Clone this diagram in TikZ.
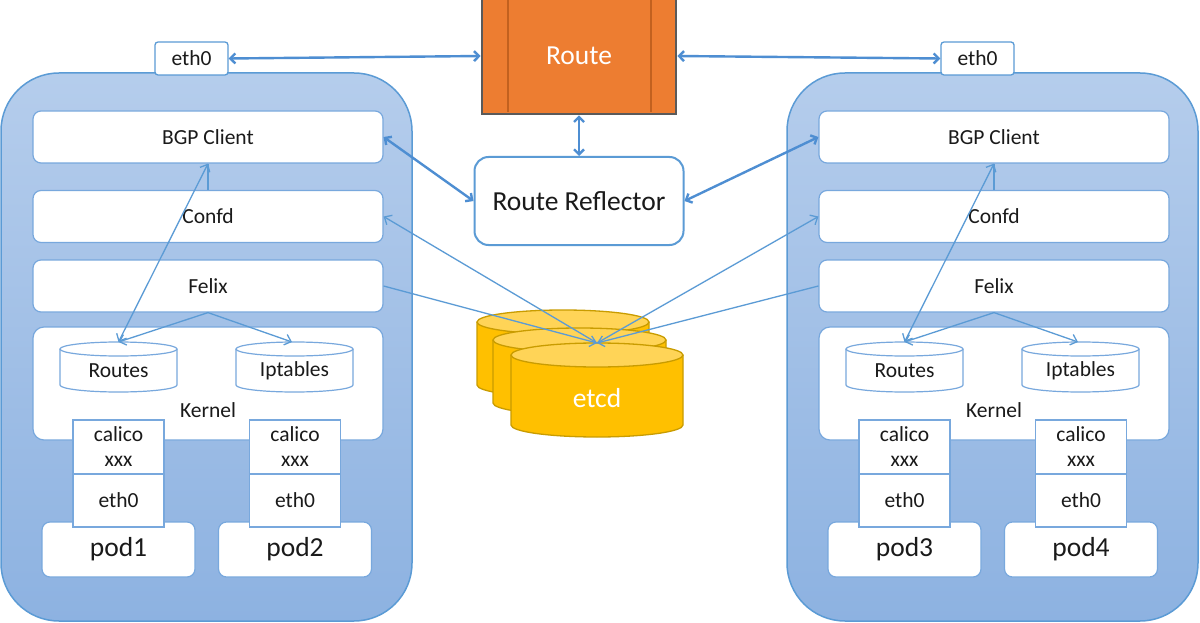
\documentclass[tikz,border=0pt]{standalone}
\usepackage{fontspec}
\setmainfont{Carlito}
\usetikzlibrary{arrows.meta}
\definecolor{lineblue}{HTML}{5B9BD5}
\definecolor{arrblue}{HTML}{4E8ED2}
\definecolor{boxline}{HTML}{78A8DD}
\definecolor{srvline}{HTML}{5B9BD5}
\definecolor{srvtop}{HTML}{B5CDEC}
\definecolor{srvbot}{HTML}{8DB2E1}
\definecolor{orfill}{HTML}{ED7D31}
\definecolor{orline}{HTML}{C2611F}
\definecolor{orborder}{HTML}{5A5A5A}
\definecolor{etfill}{HTML}{FFC000}
\definecolor{ettop}{HTML}{FFD457}
\definecolor{etline}{HTML}{C99C00}
\definecolor{textc}{HTML}{1A1A1A}
\newcommand{\mycyl}[8]{%
  \fill[#6] (#1-#4,#2+#5) -- (#1-#4,#3-#5) arc[start angle=180,end angle=0,x radius=#4,y radius=#5] -- (#1+#4,#2+#5) -- cycle;
  \fill[#7] (#1,#2+#5) ellipse[x radius=#4,y radius=#5];
  \draw[#8] (#1-#4,#2+#5) -- (#1-#4,#3-#5) arc[start angle=180,end angle=0,x radius=#4,y radius=#5] -- (#1+#4,#2+#5);
  \draw[#8] (#1,#2+#5) ellipse[x radius=#4,y radius=#5];
}
\begin{document}
\begin{tikzpicture}[x=1pt,y=-1pt,
  txt/.style={font=\fontsize{21.5}{25}\selectfont, text=textc},
  bigtxt/.style={font=\fontsize{27.5}{30}\selectfont, text=textc},
  server/.style={draw=srvline, line width=1.5pt, rounded corners=58pt, top color=srvtop, bottom color=srvbot, minimum width=411pt, minimum height=548pt, inner sep=0pt},
  tab/.style={draw=srvline, line width=1.3pt, fill=white, rounded corners=3pt, minimum width=73pt, minimum height=33pt, inner sep=0pt, txt},
  layer/.style={draw=boxline, line width=1.2pt, fill=white, rounded corners=8pt, minimum width=350pt, minimum height=52pt, inner sep=0pt, txt},
  kernelbox/.style={draw=boxline, line width=1.2pt, fill=white, rounded corners=11pt, minimum width=350pt, minimum height=113pt, inner sep=0pt},
  iface/.style={draw=boxline, line width=1.2pt, fill=white, minimum width=91pt, minimum height=54pt, inner sep=0pt, txt, align=center},
  podbox/.style={draw=boxline, line width=1.2pt, fill=white, rounded corners=8pt, minimum width=153pt, minimum height=55pt, inner sep=0pt, bigtxt},
  routebox/.style={draw=orborder, line width=2.6pt, fill=orfill, minimum width=194pt, minimum height=116pt, inner sep=0pt, bigtxt, text=white},
  rrbox/.style={draw=lineblue, line width=2pt, fill=white, rounded corners=14pt, minimum width=209pt, minimum height=88pt, inner sep=0pt, bigtxt},
  thinln/.style={draw=lineblue, line width=1.3pt, >={Straight Barb[length=6pt,width=11pt]}},
  bigln/.style={draw=arrblue, line width=2.4pt, >={Straight Barb[length=5pt,width=10pt]}},
]
\useasboundingbox (0,0) rectangle (1200,623);
\fill[white] (0,0) rectangle (1200,623);

\foreach \s/\dx/\pa/\pb in {L/0/1/2, R/786/3/4}{
  \node[server] (srv\s) at (206.5+\dx,347) {};
  \node[tab] (tab\s) at (191.5+\dx,58.5) {eth0};
  \node[layer] (bgp\s) at (208+\dx,137) {BGP Client};
  \node[layer] (confd\s) at (208+\dx,216.5) {Confd};
  \node[layer] (felix\s) at (208+\dx,286) {Felix};
  \node[kernelbox] (kernel\s) at (208+\dx,383.5) {};
  \mycyl{118.5+\dx}{342}{392}{58.5}{7}{white}{white}{boxline, line width=1.2pt}
  \mycyl{294.5+\dx}{342}{392}{58.5}{7}{white}{white}{boxline, line width=1.2pt}
  \node[txt] (routes\s) at (118.5+\dx,371) {Routes};
  \node[txt] (iptables\s) at (294.5+\dx,371) {Iptables};
  \coordinate (routestop\s) at (118.5+\dx,342);
  \coordinate (iptop\s) at (292+\dx,342);
  \node[txt] (kerneltxt\s) at (208+\dx,410) {Kernel};
  \node[podbox] (pod\pa) at (118.5+\dx,549.5) {pod\pa};
  \node[podbox] (pod\pb) at (295+\dx,549.5) {pod\pb};
  \node[iface] (calico\pa) at (118.5+\dx,447) {calico\\xxx};
  \node[iface] (calico\pb) at (295+\dx,447) {calico\\xxx};
  \node[iface, minimum height=53pt] (eth\pa) at (118.5+\dx,500.5) {eth0};
  \node[iface, minimum height=53pt] (eth\pb) at (295+\dx,500.5) {eth0};
}

% Route box
\node[routebox] (route) at (579,56) {Route};
\draw[orline, line width=1.4pt] (508,0) -- (508,112.5);
\draw[orline, line width=1.4pt] (651,0) -- (651,112.5);

% Route reflector
\node[rrbox] (rr) at (579,201) {Route Reflector};

% etcd
\mycyl{563}{310}{397}{86}{12}{etfill}{ettop}{etline, line width=1.3pt}
\mycyl{579.5}{328}{415}{86.5}{12}{etfill}{ettop}{etline, line width=1.3pt}
\mycyl{597}{343}{437}{86}{12}{etfill}{ettop}{etline, line width=1.3pt}
\node[bigtxt, text=white] (etcd) at (597,398) {etcd};
\coordinate (etcdtop) at (597,343);

% connectors inside servers
\foreach \s in {L,R}{
  \draw[thinln] (confd\s.north) -- (bgp\s.south);
  \draw[thinln,<->] (bgp\s.south) -- (routestop\s);
  \draw[thinln,->] (felix\s.south) -- (routestop\s);
  \draw[thinln,->] (felix\s.south) -- (iptop\s);
}

% connectors to etcd
\draw[thinln,->] (etcdtop) -- (confdL.east);
\draw[thinln,->] (etcdtop) -- (confdR.west);
\draw[thinln,->] (felixL.east) -- (etcdtop);
\draw[thinln,->] (felixR.west) -- (etcdtop);

% thick connectors
\draw[bigln,<->] (tabL.east) -- (route.west);
\draw[bigln,<->] (route.east) -- (tabR.west);
\draw[bigln,<->] (route.south) -- (rr.north);
\draw[bigln,<->] (bgpL.east) -- (rr.west);
\draw[bigln,<->] (rr.east) -- (bgpR.west);
\end{tikzpicture}
\end{document}
